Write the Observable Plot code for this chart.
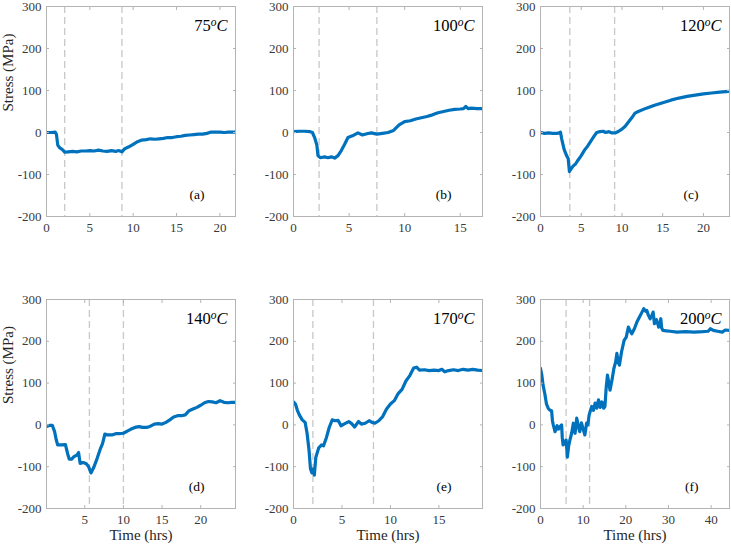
<!DOCTYPE html>
<html><head><meta charset="utf-8">
<script src="https://cdn.jsdelivr.net/npm/d3@7"></script>
<script src="https://cdn.jsdelivr.net/npm/@observablehq/plot@0.6"></script>
<style>
body{margin:0;background:#fff}
#chart{position:relative;width:731px;height:548px;overflow:hidden;background:#fff}
#chart svg{position:absolute;overflow:visible}
</style></head><body><div id="chart"></div>
<script>
// ---- data (time in hrs, stress in MPa) ----
const temps = ["75", "100", "120", "140", "170", "200"];
const letters = ["(a)", "(b)", "(c)", "(d)", "(e)", "(f)"];
const xMin = [0, 0, 0, 0.05, 0, 0];
const xMax = [21.8, 17, 23.2, 24.5, 19.5, 44.3];
const xTicks = [[0,5,10,15,20],[0,5,10,15],[0,5,10,15,20],[5,10,15,20],[0,5,10,15],[0,10,20,30,40]];
const yTicks = [-200, -100, 0, 100, 200, 300];
const dashes = [[2.1, 8.7],[2.3, 7.5],[3.6, 9.1],[5.6, 10],[2.0, 8.25],[6.0, 11.5]];

const s75 = [[0,0],[0.5,0],[1.0,1],[1.15,-5],[1.3,-30],[1.5,-36],[1.8,-40],[2.1,-47],[2.5,-46],[3,-45],[3.5,-46],[4,-44],[4.5,-44],[5,-43],[5.5,-44],[6,-42],[6.5,-44],[7,-45],[7.5,-43],[8,-45],[8.3,-43],[8.7,-46],[9,-39],[9.5,-34],[10,-28],[10.5,-22],[11,-18],[11.5,-17],[12,-15],[12.5,-16],[13,-15],[13.5,-14],[14,-12],[14.5,-12],[15,-10],[15.5,-9],[16,-7],[16.5,-6],[17,-5],[17.5,-4],[18,-4],[18.5,-2],[19,1],[19.5,1],[20,1],[20.5,0],[21,1],[21.8,1]];
const s100 = [[0,2],[0.5,3],[1,3],[1.5,2],[1.7,0],[1.9,-12],[2.1,-30],[2.2,-55],[2.4,-60],[2.8,-58],[3.1,-60],[3.4,-58],[3.7,-61],[4.0,-55],[4.3,-43],[4.6,-28],[4.9,-12],[5.3,-8],[5.8,-1],[6.2,-6],[6.6,-3],[7.0,-1],[7.5,-4],[8,-2],[8.5,0],[9,5],[9.5,18],[10,26],[10.5,28],[11,32],[11.5,35],[12,38],[12.5,42],[13,47],[13.5,50],[14,53],[14.5,55],[15,56],[15.3,57],[15.5,62],[15.7,57],[16,58],[16.5,57],[17,57]];
const s120 = [[0,0],[0.5,-2],[1,-1],[1.5,-2],[2,-2],[2.3,-1],[2.45,1],[2.6,-15],[2.9,-40],[3.2,-55],[3.4,-62],[3.55,-93],[3.7,-88],[4,-80],[4.3,-75],[4.6,-66],[5,-55],[5.4,-42],[5.8,-32],[6.2,-20],[6.6,-8],[6.9,0],[7.3,2],[7.7,3],[8,0],[8.4,2],[8.8,-1],[9.2,-1],[9.6,3],[10,8],[10.4,15],[10.8,25],[11.2,35],[11.6,46],[12,50],[13,58],[14,65],[15,71],[16,77],[17,82],[18,86],[19,89],[20,92],[21,94],[22,96],[23.2,98]];
const s140 = [[0.05,-4],[0.5,-1],[0.8,-1],[1.1,-16],[1.3,-35],[1.5,-48],[2,-48],[2.5,-47],[2.8,-70],[3.0,-82],[3.3,-82],[3.6,-76],[4.0,-72],[4.2,-66],[4.4,-92],[4.8,-90],[5.2,-93],[5.5,-100],[5.8,-115],[6.2,-100],[6.6,-80],[7.0,-58],[7.3,-45],[7.6,-22],[8,-24],[8.5,-24],[9,-21],[9.5,-21],[10,-20],[10.5,-15],[11,-10],[11.5,-6],[12,-4],[12.5,-6],[13,-6],[13.5,-3],[14,2],[14.5,3],[15,2],[15.5,6],[16,12],[16.5,19],[17,22],[17.5,22],[18,24],[18.5,34],[19,38],[19.5,42],[20,47],[20.5,53],[21,56],[21.5,55],[22,53],[22.5,58],[23,54],[23.5,53],[24,54],[24.5,54]];
const s170 = [[0,55],[0.2,50],[0.4,35],[0.6,24],[0.9,12],[1.2,6],[1.4,-20],[1.6,-60],[1.75,-105],[1.9,-115],[2.05,-105],[2.15,-120],[2.3,-78],[2.6,-55],[2.9,-48],[3.1,-50],[3.4,-30],[3.7,-5],[4.0,12],[4.3,10],[4.6,11],[4.9,-2],[5.3,3],[5.7,8],[6.0,3],[6.3,-5],[6.7,8],[7.0,2],[7.4,4],[7.8,10],[8.1,6],[8.4,4],[8.8,10],[9.2,20],[9.6,38],[10.0,50],[10.4,58],[10.8,75],[11.2,85],[11.6,105],[12.0,118],[12.4,136],[12.7,138],[13.0,131],[13.5,132],[14,130],[14.5,131],[15,130],[15.3,133],[15.6,127],[16,130],[16.5,132],[17,130],[17.5,133],[18,131],[18.5,133],[19,131],[19.5,130]];
const s200 = [[0,135],[0.3,120],[0.6,95],[1.0,75],[1.4,50],[1.8,40],[2.2,35],[2.6,34],[2.8,10],[3.0,0],[3.4,-16],[3.9,-2],[4.2,-10],[4.5,-5],[4.95,0],[5.1,-30],[5.3,-48],[5.7,-40],[6.0,-36],[6.3,-77],[6.6,-50],[6.9,-36],[7.3,-20],[7.7,4],[8.1,-20],[8.5,16],[8.9,-5],[9.2,-16],[9.6,5],[10.0,-10],[10.4,-24],[10.8,4],[11.1,0],[11.4,24],[12,44],[12.4,35],[12.8,52],[13.2,40],[13.6,60],[14.0,42],[14.4,55],[14.8,40],[15.1,44],[15.4,90],[15.7,119],[16.0,100],[16.3,83],[16.8,110],[17.2,135],[17.6,150],[17.9,171],[18.2,150],[18.5,143],[19.0,175],[19.6,202],[20.1,210],[20.6,234],[21.0,225],[21.4,218],[22.0,230],[22.6,246],[23.2,258],[23.7,268],[24.2,278],[24.6,272],[24.9,274],[25.3,262],[25.7,254],[26.1,262],[26.4,270],[26.7,242],[27.2,252],[27.7,234],[28.0,240],[28.2,254],[28.4,232],[28.7,226],[29.5,225],[30.4,224],[32,222],[34,223],[36,222],[38,223],[39.3,224],[39.8,230],[40.5,226],[41.5,224],[42.6,222],[43.3,227],[44.3,226]];
const series = [s75, s100, s120, s140, s170, s200];

// ---- layout ----
const FONT = '"Liberation Serif","Times New Roman",Times,serif';
const colLeft = [0, 246.5, 493.5];
const rowTop = [0, 293];
const AX = "#b4b4b4", TXT = "#3a3a3a";
const chart = document.getElementById("chart");

series.forEach((data, i) => {
  const row = Math.floor(i / 3), col = i % 3;
  const marks = [
    Plot.ruleX(dashes[i], {stroke: "#c8c8c8", strokeWidth: 1.3, strokeDasharray: "7,4"}),
    Plot.line(data, {x: d => d[0], y: d => d[1], stroke: "#0072BD", strokeWidth: 3.2, clip: true}),
    Plot.frame({stroke: AX}),
    Plot.axisX({ticks: xTicks[i], tickSize: 0, tickPadding: 6, tickFormat: d => String(d), label: null, fill: TXT}),
    Plot.axisY({ticks: yTicks, tickSize: 0, tickPadding: 5, tickFormat: d => String(d), label: null, fill: TXT}),
    Plot.axisX({anchor: "bottom", ticks: xTicks[i], tickSize: -3, fill: "none", label: null, stroke: AX}),
    Plot.axisX({anchor: "top", ticks: xTicks[i], tickSize: -3, fill: "none", label: null, stroke: AX}),
    Plot.axisY({anchor: "left", ticks: yTicks, tickSize: -3, fill: "none", label: null, stroke: AX}),
    Plot.axisY({anchor: "right", ticks: yTicks, tickSize: -3, fill: "none", label: null, stroke: AX}),
    Plot.text([temps[i] + "oC"], {frameAnchor: "top-right", text: d => d, dx: -8, dy: 13, textAnchor: "end", fontSize: 16.5, fill: "#000"}),
    Plot.text([letters[i]], {frameAnchor: "bottom-right", text: d => d, dx: -31, dy: -18, fontSize: 13.5, fill: "#000"})
  ];
  if (col === 0) marks.push(Plot.text(["Stress (MPa)"], {frameAnchor: "left", text: d => d, rotate: -90, dx: -38, fontSize: 15, fill: "#262626"}));
  if (row === 1) marks.push(Plot.text(["Time (hrs)"], {frameAnchor: "bottom", text: d => d, dy: 31, fontSize: 15, fill: "#262626"}));

  const svg = Plot.plot({
    width: 237, height: row === 0 ? 250 : 254,
    marginLeft: 46, marginRight: 2, marginTop: 6, marginBottom: row === 0 ? 34 : 39,
    x: {domain: [xMin[i], xMax[i]]},
    y: {domain: [-200, 300]},
    style: {fontFamily: FONT, fontSize: "13px", color: TXT, background: "transparent", overflow: "visible"},
    marks
  });
  svg.style.left = colLeft[col] + "px";
  svg.style.top = rowTop[row] + "px";
  // LaTeX-like temperature label: upright number, italic superscript o, italic C
  d3.select(svg).selectAll("text").each(function () {
    if (this.textContent === temps[i] + "oC") {
      const t = d3.select(this);
      t.text(null);
      t.append("tspan").text(temps[i]);
      t.append("tspan").attr("font-style", "italic").attr("font-size", "11.5px").attr("dy", "-5.5").text("o");
      t.append("tspan").attr("font-style", "italic").attr("dy", "5.5").text("C");
    }
  });
  chart.appendChild(svg);
});
</script></body></html>
